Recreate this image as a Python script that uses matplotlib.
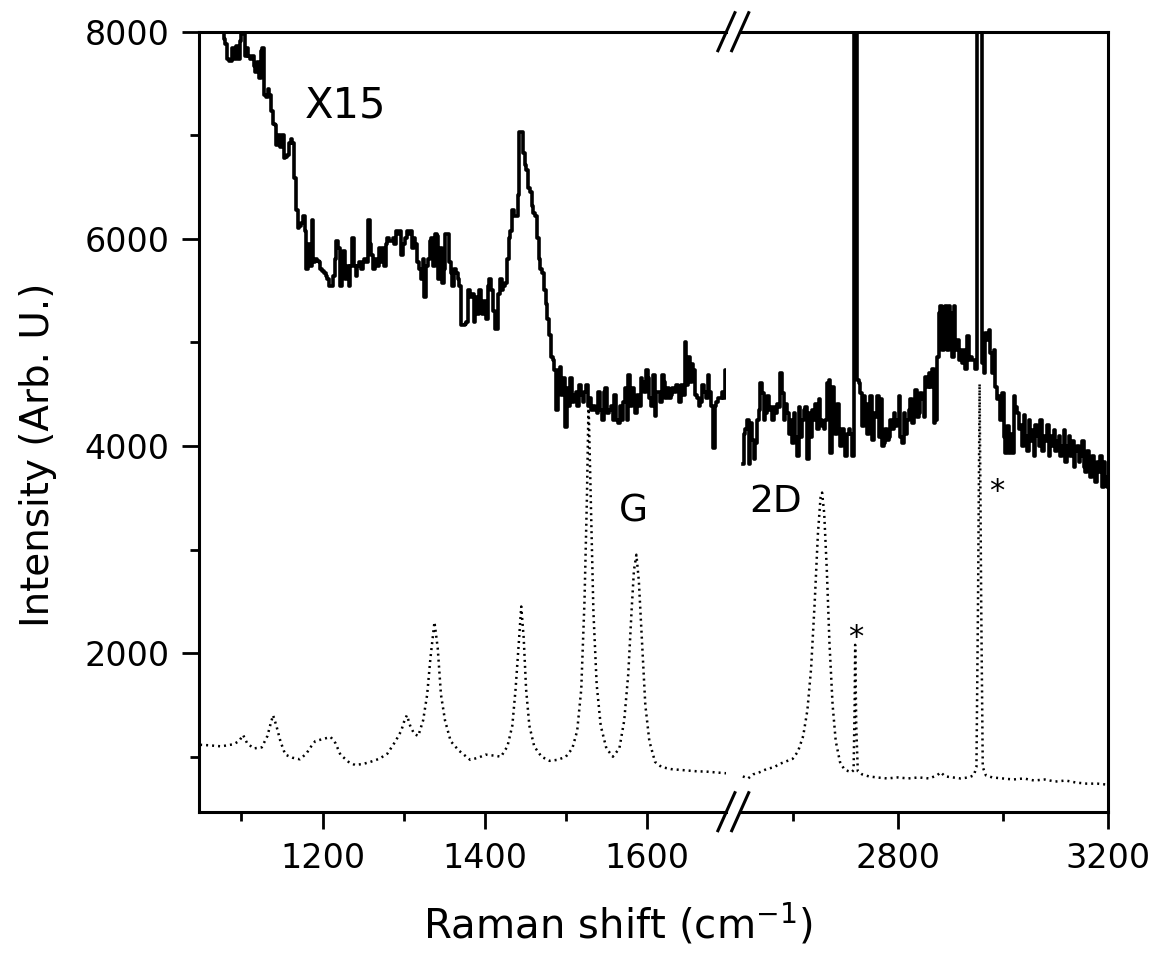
import numpy as np
import matplotlib.pyplot as plt
from matplotlib.lines import Line2D
from matplotlib.ticker import MultipleLocator

# raw spectrum (dotted), low-wavenumber window
raw_left_wn = [1049, 1060, 1075, 1090, 1097, 1102, 1107, 1115, 1125, 1132, 1136, 1139, 1143, 1148,
               1154, 1163, 1172, 1180, 1186, 1191, 1200, 1210, 1216, 1222, 1232, 1240, 1250, 1259,
               1270, 1280, 1290, 1297, 1301, 1304, 1308, 1313, 1318, 1324, 1329, 1333, 1338, 1342,
               1346, 1351, 1358, 1368, 1382, 1392, 1401, 1412, 1420, 1428, 1434, 1438, 1442, 1445,
               1448, 1451, 1455, 1461, 1470, 1480, 1490, 1500, 1508, 1514, 1519, 1523, 1526, 1528,
               1531, 1534, 1538, 1543, 1550, 1558, 1566, 1572, 1577, 1581, 1584, 1587, 1590, 1594,
               1598, 1603, 1610, 1618, 1630, 1645, 1660, 1675, 1690, 1698]
raw_left_int = [1115, 1110, 1100, 1120, 1150, 1210, 1130, 1080, 1090, 1200, 1320, 1400, 1300, 1150,
                1020, 990, 975, 1030, 1100, 1150, 1170, 1190, 1130, 1020, 950, 920, 930, 950,
                980, 1030, 1150, 1250, 1350, 1400, 1300, 1220, 1200, 1350, 1600, 1950, 2300, 2050,
                1600, 1350, 1150, 1060, 970, 990, 1020, 1010, 1000, 1100, 1300, 1650, 2100, 2450,
                2150, 1650, 1300, 1100, 1000, 960, 970, 1000, 1080, 1250, 1650, 2500, 3500, 4420,
                3400, 2400, 1700, 1300, 1080, 1000, 1080, 1350, 1800, 2400, 2800, 2950, 2700, 2100,
                1500, 1150, 950, 900, 880, 870, 860, 855, 845, 840]

# raw spectrum (dotted), high-wavenumber window
raw_right_wn = [2505, 2515, 2525, 2537, 2550, 2565, 2575, 2590, 2600, 2610, 2620, 2628, 2635, 2642,
                2648, 2653, 2656, 2660, 2665, 2670, 2676, 2682, 2690, 2698, 2706, 2712, 2716, 2718,
                2719, 2721, 2724, 2732, 2745, 2760, 2780, 2800, 2820, 2840, 2860, 2875, 2882, 2890,
                2905, 2920, 2935, 2945, 2950, 2953, 2956, 2959, 2962, 2968, 2980, 3000, 3020, 3040,
                3060, 3080, 3100, 3120, 3140, 3160, 3180, 3200]
raw_right_int = [810, 790, 830, 850, 880, 900, 930, 960, 980, 1050, 1200, 1450, 1850, 2500,
                 3150, 3500, 3550, 3350, 2800, 2100, 1500, 1150, 950, 880, 860, 850, 870, 1500,
                 2080, 1300, 860, 830, 810, 800, 790, 800, 790, 800, 790, 820, 850, 810,
                 800, 790, 800, 820, 900, 2500, 4600, 2500, 900, 820, 800, 790, 780, 790,
                 770, 780, 760, 770, 750, 740, 740, 730]

# x15 magnified spectrum, sampled on an even grid in each window
x15_left_range = (1077, 1697.5)
x15_left_int = [8200, 7930, 7880, 7740, 7720, 7720, 7840, 7740, 7860, 7740, 7910, 7980, 7980, 7770,
                7840, 7770, 7740, 7770, 7670, 7610, 7710, 7550, 7810, 7840, 7390, 7370, 7450, 7390,
                7230, 7110, 7100, 6910, 7000, 6890, 7000, 6780, 6790, 6810, 6930, 6960, 6930, 6590,
                6280, 6100, 6120, 6150, 6220, 6080, 5710, 5950, 5740, 6180, 5780, 5810, 5790, 5780,
                5710, 5690, 5670, 5640, 5610, 5540, 5540, 5640, 5810, 5980, 5910, 5540, 5780, 5880,
                5610, 5740, 5540, 5740, 6010, 5740, 5640, 5740, 5780, 5710, 5780, 5810, 5780, 6180,
                5950, 5840, 5710, 5810, 5740, 5910, 5780, 5910, 5740, 5950, 6010, 5980, 5980, 6010,
                5950, 6080, 6050, 6080, 5840, 5950, 6010, 6080, 6050, 6080, 5910, 6010, 5950, 5780,
                5710, 5610, 5810, 5440, 5740, 5810, 5980, 6010, 5740, 6050, 6030, 5610, 5910, 5570,
                5710, 6050, 6050, 5780, 5670, 5540, 5710, 5670, 5610, 5540, 5170, 5170, 5180, 5200,
                5510, 5440, 5470, 5200, 5440, 5270, 5510, 5400, 5270, 5400, 5230, 5540, 5610, 5510,
                5300, 5130, 5130, 5470, 5610, 5510, 5540, 5570, 5810, 6010, 6080, 6280, 6220, 6220,
                6420, 7030, 7030, 6830, 6710, 6660, 6490, 6450, 6320, 6250, 6220, 6010, 5810, 5710,
                5670, 5510, 5370, 5230, 5070, 4860, 4830, 4730, 4350, 4730, 4760, 4490, 4660, 4180,
                4560, 4390, 4660, 4420, 4490, 4520, 4390, 4590, 4490, 4420, 4520, 4590, 4390, 4460,
                4350, 4390, 4350, 4320, 4520, 4350, 4250, 4520, 4560, 4320, 4350, 4390, 4250, 4490,
                4250, 4220, 4390, 4250, 4420, 4560, 4250, 4690, 4390, 4560, 4420, 4320, 4490, 4390,
                4660, 4620, 4520, 4730, 4660, 4460, 4390, 4690, 4290, 4520, 4520, 4420, 4690, 4620,
                4460, 4560, 4460, 4490, 4560, 4520, 4590, 4560, 4420, 4590, 4490, 5000, 4590, 4860,
                4620, 4790, 4730, 4490, 4460, 4390, 4420, 4590, 4520, 4460, 4690, 4520, 4390, 3980,
                4390, 4420, 4460, 4460, 4520, 4460, 4730]

x15_right_range = (2505, 3200)
x15_right_int = [3830, 4120, 4160, 4250, 3830, 4220, 4060, 3870, 4030, 4250, 4350, 4610, 4510, 4250,
                 4320, 4480, 4350, 4380, 4250, 4380, 4320, 4410, 4380, 4700, 4510, 4250, 4410, 4320,
                 4120, 4250, 4030, 4320, 4090, 3900, 4380, 4090, 4250, 4350, 4380, 3870, 4320, 4090,
                 4350, 4250, 4410, 4160, 4450, 4250, 4190, 4160, 4250, 4610, 4640, 3930, 4570, 4220,
                 4120, 4410, 4160, 4000, 4160, 4090, 3900, 4120, 4160, 4120, 3900, 30000, 30000, 4640,
                 4610, 4510, 4190, 4480, 4410, 4120, 4410, 4480, 4060, 4320, 4280, 4480, 4090, 4450,
                 4000, 4030, 4160, 4060, 4090, 4250, 4160, 4320, 4190, 4250, 4480, 4090, 4030, 4320,
                 4120, 4250, 4350, 4450, 4220, 4350, 4540, 4280, 4320, 4510, 4450, 4280, 4670, 4570,
                 4700, 4570, 4740, 4220, 4250, 4860, 5280, 5350, 4930, 5220, 5350, 4930, 5350, 5280,
                 4860, 5350, 4930, 5020, 4830, 4930, 4800, 4930, 4740, 5060, 4830, 4860, 4830, 4830,
                 4740, 30000, 30000, 30000, 4800, 4700, 5090, 5020, 5120, 4900, 4700, 4930, 4570, 4450,
                 4480, 4250, 4510, 4090, 3930, 4190, 3930, 4120, 3930, 4480, 4380, 4320, 4160, 4200,
                 4000, 4300, 4100, 3950, 4250, 4050, 4150, 3900, 4200, 4100, 4000, 4250, 3950, 4100,
                 4050, 4200, 3900, 4100, 4000, 4150, 3950, 4050, 4100, 3900, 4000, 4150, 3850, 4000,
                 4100, 3900, 4050, 3800, 3950, 4000, 3850, 3900, 4050, 3800, 3750, 3950, 3850, 3700,
                 3900, 3800, 3650, 3850, 3750, 3900, 3600, 3850, 3700, 3600]

left_xlim = (1048, 1698)
right_xlim = (2500, 3200)
y_lim = (469, 8000)

W, H = 1155, 964
fig = plt.figure(figsize=(W / 100, H / 100), dpi=100)
ax1 = fig.add_axes([199.3 / W, 1 - 811.7 / H, (726.4 - 199.3) / W, 780 / H])
ax2 = fig.add_axes([740.2 / W, 1 - 811.7 / H, (1107.7 - 740.2) / W, 780 / H])

dot_style = dict(color='black', lw=1.8, linestyle=(0, (0.8, 1.6)))
line_style = dict(color='black', lw=2.6, drawstyle='steps-mid')

ax1.plot(raw_left_wn, raw_left_int, **dot_style)
ax2.plot(raw_right_wn, raw_right_int, **dot_style)
ax1.plot(np.linspace(*x15_left_range, len(x15_left_int)), x15_left_int, **line_style)
ax2.plot(np.linspace(*x15_right_range, len(x15_right_int)), x15_right_int, **line_style)

for ax in (ax1, ax2):
    ax.set_ylim(*y_lim)
    for s in ax.spines.values():
        s.set_linewidth(2.2)
    ax.tick_params(which='major', length=12.5, width=2, labelsize=24, pad=9, direction='out')
    ax.tick_params(which='minor', length=6.5, width=2, direction='out')
    ax.tick_params(top=False, right=False)

ax1.set_xlim(*left_xlim)
ax2.set_xlim(*right_xlim)
ax1.xaxis.set_major_locator(MultipleLocator(200))
ax1.xaxis.set_minor_locator(MultipleLocator(100))
ax2.set_xticks([2800, 3200])
ax2.set_xticks([2600, 3000], minor=True)
ax1.yaxis.set_major_locator(MultipleLocator(2000))
ax1.yaxis.set_minor_locator(MultipleLocator(1000))
ax1.spines['right'].set_visible(False)
ax2.spines['left'].set_visible(False)
ax2.tick_params(which='both', left=False, labelleft=False)

# axis break marks
p1, p2 = ax1.get_position(), ax2.get_position()
for xb in (p1.x1, p2.x0):
    for yb in (p1.y0, p1.y1):
        dx, dy = 8.5 / W, 19 / H
        fig.add_artist(Line2D([xb - dx, xb + dx], [yb - dy, yb + dy], color='black', lw=2.2))

ax1.text(1228, 7290, 'X15', fontsize=30, ha='center', va='center')
ax1.text(1583, 3370, 'G', fontsize=27, ha='center', va='center')
ax2.text(2567, 3460, '2D', fontsize=27, ha='center', va='center')
ax2.text(2721, 2150, '*', fontsize=22, ha='center', va='center')
ax2.text(2988, 3560, '*', fontsize=22, ha='center', va='center')

fig.text(618 / W, 1 - 925 / H, 'Raman shift (cm$^{-1}$)', fontsize=29, ha='center', va='center')
fig.text(38 / W, 1 - 455 / H, 'Intensity (Arb. U.)', fontsize=28, ha='center', va='center',
         rotation=90)

fig.savefig('out.png', dpi=100)
